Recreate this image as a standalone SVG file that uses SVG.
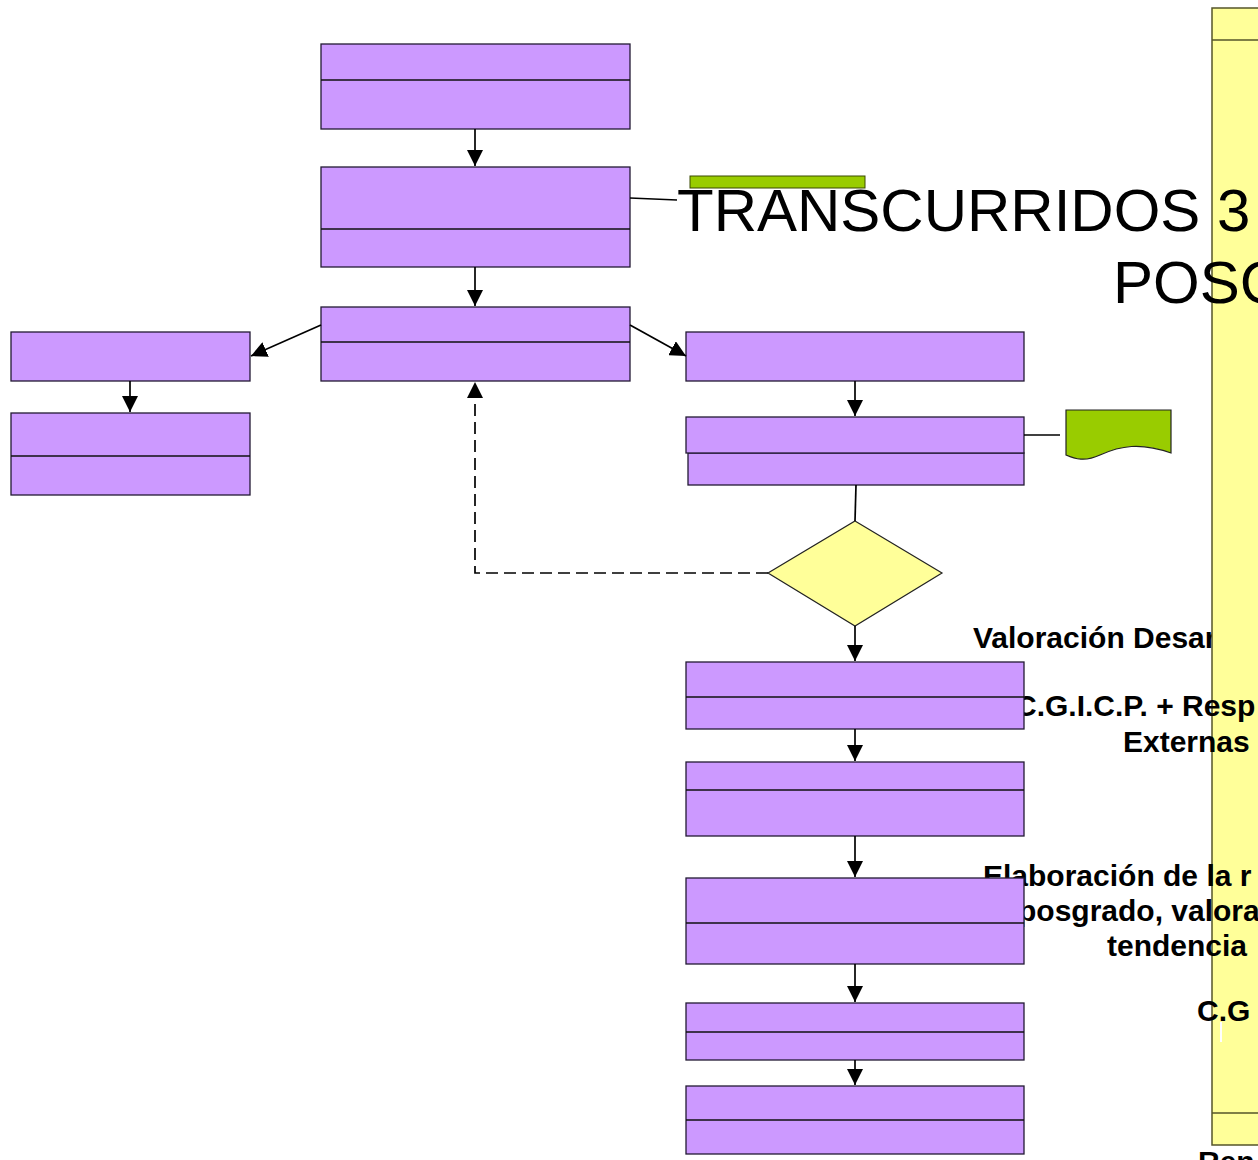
<svg xmlns="http://www.w3.org/2000/svg" width="1258" height="1160" viewBox="0 0 1258 1160">
<style>
.box{fill:#CC99FF;stroke:#231a33;stroke-width:1.3}
.div{stroke:#111;stroke-width:1.3}
.con{stroke:#000;stroke-width:1.7;fill:none}
.lbl{font-family:"Liberation Sans",Arial,sans-serif;font-weight:bold;font-size:30px;fill:#000}
.title{font-family:"Liberation Sans",Arial,sans-serif;font-size:60px;fill:#000}
</style>
<defs>
<marker id="ahb" viewBox="0 0 16 16" refX="16" refY="8" markerWidth="16" markerHeight="16" markerUnits="userSpaceOnUse" orient="auto">
<path d="M0,0 L16,8 L0,16 z" fill="#000"/>
</marker>
</defs>
<rect width="1258" height="1160" fill="#fff"/>
<text class="lbl" x="973" y="648">Valoración Desar</text>
<g id="lane">
<rect x="1212" y="8" width="60" height="1137" fill="#FFFF99" stroke="#55552a" stroke-width="1.5"/>
<line x1="1212" y1="40" x2="1258" y2="40" stroke="#55552a" stroke-width="1.5"/>
<line x1="1212" y1="1113" x2="1258" y2="1113" stroke="#55552a" stroke-width="1.5"/>
</g>
<g id="green-note"><rect x="690" y="176" width="175" height="12" fill="#99CC00" stroke="#3a4a00" stroke-width="1"/></g>
<g id="title">
<text class="title" x="677" y="231">TRANSCURRIDOS 3</text>
<text class="title" x="1113" y="303">POSG</text>
</g>
<g id="labels">
<text class="lbl" x="1015" y="716">C.G.I.C.P. + Resp</text>
<text class="lbl" x="1123" y="752">Externas</text>
<text class="lbl" x="983" y="886">Elaboración de la r</text>
<text class="lbl" x="1018" y="921">posgrado, valora</text>
<text class="lbl" x="1107" y="956">tendencia</text>
<text class="lbl" x="1197" y="1021">C.G</text>
<line x1="1221" y1="1022" x2="1221" y2="1042" stroke="#fff" stroke-width="2"/>
<text class="lbl" x="1198" y="1172">Ren</text>
</g>
<g id="doc">
<path d="M1066,410 L1171,410 L1171,453 C1140,442 1120,446 1100,455 C1085,462 1075,459 1066,455 Z" fill="#99CC00" stroke="#222" stroke-width="1.2"/>
</g>
<g id="nodeA"><rect class="box" x="321" y="44" width="309" height="85"/><line class="div" x1="321" y1="80" x2="630" y2="80"/></g>
<g id="nodeB"><rect class="box" x="321" y="167" width="309" height="100"/><line class="div" x1="321" y1="229" x2="630" y2="229"/></g>
<g id="nodeC"><rect class="box" x="321" y="307" width="309" height="74"/><line class="div" x1="321" y1="342" x2="630" y2="342"/></g>
<g id="nodeL1"><rect class="box" x="11" y="332" width="239" height="49"/></g>
<g id="nodeL2"><rect class="box" x="11" y="413" width="239" height="82"/><line class="div" x1="11" y1="456" x2="250" y2="456"/></g>
<g id="nodeR1"><rect class="box" x="686" y="332" width="338" height="49"/></g>
<g id="nodeR2"><rect class="box" x="688" y="453" width="336" height="32"/><rect class="box" x="686" y="417" width="338" height="36"/></g>
<g id="decision"><polygon points="855,521 942,573 855,626 768,573" fill="#FFFF99" stroke="#222" stroke-width="1.2"/></g>
<g id="nodeD"><rect class="box" x="686" y="662" width="338" height="67"/><line class="div" x1="686" y1="697" x2="1024" y2="697"/></g>
<g id="nodeE"><rect class="box" x="686" y="762" width="338" height="74"/><line class="div" x1="686" y1="790" x2="1024" y2="790"/></g>
<g id="nodeF"><rect class="box" x="686" y="878" width="338" height="86"/><line class="div" x1="686" y1="923" x2="1024" y2="923"/></g>
<g id="nodeG"><rect class="box" x="686" y="1003" width="338" height="57"/><line class="div" x1="686" y1="1032" x2="1024" y2="1032"/></g>
<g id="nodeH"><rect class="box" x="686" y="1086" width="338" height="68"/><line class="div" x1="686" y1="1120" x2="1024" y2="1120"/></g>
<g id="connectors">
<line class="con" x1="475" y1="129" x2="475" y2="166" marker-end="url(#ahb)"/>
<line class="con" x1="475" y1="267" x2="475" y2="306" marker-end="url(#ahb)"/>
<line class="con" x1="321" y1="325" x2="251" y2="356" marker-end="url(#ahb)"/>
<line class="con" x1="630" y1="325" x2="686" y2="356" marker-end="url(#ahb)"/>
<line class="con" x1="130" y1="381" x2="130" y2="412" marker-end="url(#ahb)"/>
<line class="con" x1="855" y1="381" x2="855" y2="416" marker-end="url(#ahb)"/>
<line class="con" x1="856" y1="485" x2="855" y2="521"/>
<line class="con" x1="855" y1="626" x2="855" y2="661" marker-end="url(#ahb)"/>
<polyline class="con" points="768,573 475,573 475,382" stroke-dasharray="12,6" marker-end="url(#ahb)"/>
<line class="con" x1="855" y1="729" x2="855" y2="761" marker-end="url(#ahb)"/>
<line class="con" x1="855" y1="836" x2="855" y2="877" marker-end="url(#ahb)"/>
<line class="con" x1="855" y1="964" x2="855" y2="1002" marker-end="url(#ahb)"/>
<line class="con" x1="855" y1="1060" x2="855" y2="1085" marker-end="url(#ahb)"/>
<line class="con" x1="630" y1="198" x2="677" y2="200"/>
<line class="con" x1="1024" y1="435" x2="1060" y2="435"/>
</g>
</svg>
